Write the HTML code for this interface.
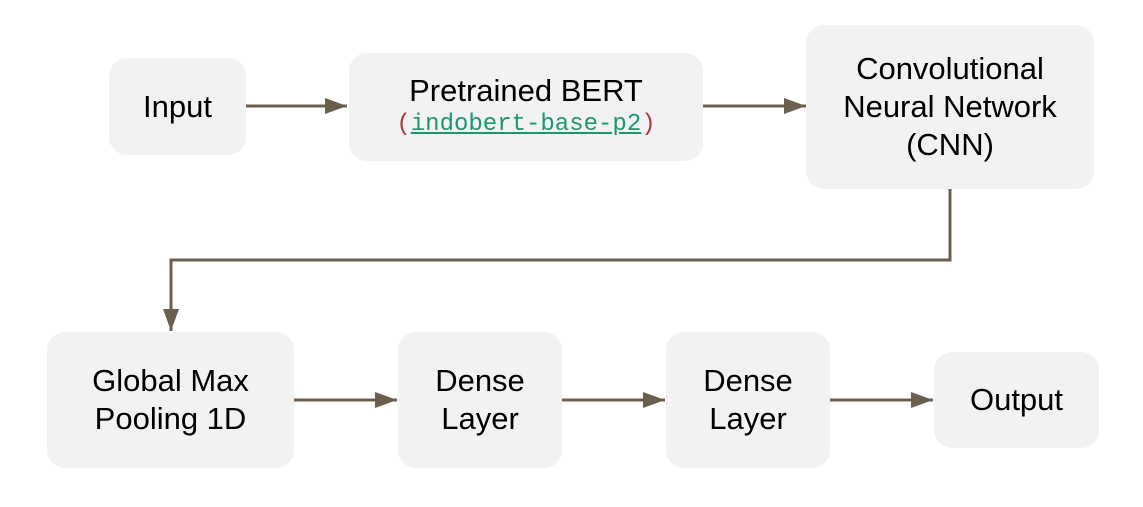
<!DOCTYPE html><html><head><style>
body{margin:0;width:1143px;height:507px;background:#fff;position:relative;overflow:hidden;font-family:"Liberation Sans",sans-serif;}
.b{position:absolute;background:#f2f2f2;border-radius:18px;display:flex;flex-direction:column;align-items:center;justify-content:center;text-align:center;font-size:31px;line-height:38px;color:#000;}
.m{font-family:"Liberation Mono",monospace;font-size:24px;line-height:30px;}
</style></head><body>
<svg width="1143" height="507" style="position:absolute;left:0;top:0">
<defs><marker id="h" viewBox="0 0 22 16" markerWidth="22" markerHeight="16" refX="22" refY="8" orient="auto" markerUnits="userSpaceOnUse"><path d="M0,0 L22,8 L0,16z" fill="#6b5f4d"/></marker></defs>
<g stroke="#6b5f4d" stroke-width="3" fill="none">
<path d="M246,106 H347" marker-end="url(#h)"/>
<path d="M703,106 H806" marker-end="url(#h)"/>
<path d="M950,189 V260 H171 V331" marker-end="url(#h)"/>
<path d="M294,400 H397" marker-end="url(#h)"/>
<path d="M562,400 H665" marker-end="url(#h)"/>
<path d="M830,400 H933" marker-end="url(#h)"/>
</g></svg>
<div class="b" style="left:109px;top:58px;width:137px;height:97px">Input</div>
<div class="b" style="left:349px;top:53px;width:354px;height:108px"><div style="margin-top:-2px">Pretrained BERT</div><div class="m"><span style="color:#b03a3a">(</span><span style="color:#1a9a6a;text-decoration:underline">indobert-base-p2</span><span style="color:#b03a3a">)</span></div></div>
<div class="b" style="left:806px;top:25px;width:288px;height:164px">Convolutional<br>Neural Network<br>(CNN)</div>
<div class="b" style="left:47px;top:332px;width:247px;height:136px">Global Max<br>Pooling 1D</div>
<div class="b" style="left:398px;top:332px;width:164px;height:136px">Dense<br>Layer</div>
<div class="b" style="left:666px;top:332px;width:164px;height:136px">Dense<br>Layer</div>
<div class="b" style="left:934px;top:352px;width:165px;height:96px">Output</div>
</body></html>
